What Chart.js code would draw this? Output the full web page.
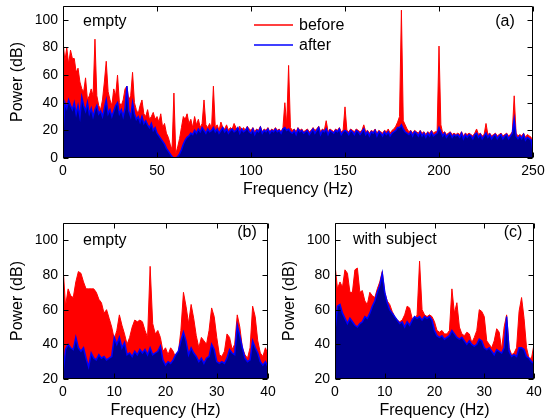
<!DOCTYPE html>
<html><head><meta charset="utf-8">
<script src="https://cdn.jsdelivr.net/npm/chart.js@4.4.1/dist/chart.umd.min.js"></script>
<style>
html,body{margin:0;padding:0;background:#fff;}
#wrap{position:relative;width:548px;height:419px;overflow:hidden;background:#fff;}
canvas{position:absolute;}
</style></head><body>
<div id="wrap">
<canvas id="ca" width="548" height="200" style="left:0;top:0"></canvas>
<canvas id="cb" width="280" height="219" style="left:0;top:200px"></canvas>
<canvas id="cc" width="274" height="219" style="left:274px;top:200px"></canvas>
</div>
<script>
// ---- Panel (a): 0-250 Hz, one value per Hz ----
const aStepHz = 1;
const aBefore = [
85,70,80,68,78,72,72,62,65,55,
50,48,58,42,45,50,45,86,45,38,
35,42,55,70,48,42,38,50,45,60,
40,38,42,50,52,42,45,62,40,35,
32,38,42,32,30,35,28,30,33,28,
30,26,32,22,25,18,15,10,6,47,
3,8,14,22,30,28,32,25,28,22,
30,24,28,22,25,42,24,22,25,21,
52,22,24,20,26,22,21,24,20,22,
21,25,22,20,23,20,22,20,23,21,
20,22,19,21,20,23,19,21,20,22,
19,21,20,22,20,21,19,22,40,24,
67,22,20,21,19,22,20,21,19,20,
21,19,20,22,20,21,23,19,21,20,
27,19,21,20,19,21,20,22,19,20,
37,20,19,21,20,19,21,20,19,20,
24,19,20,18,20,19,21,18,20,19,
18,20,19,21,18,20,21,23,26,30,
107,27,24,21,19,20,18,20,19,18,
20,18,19,17,19,18,20,18,19,19,
81,24,18,19,17,18,19,17,18,17,
18,17,19,16,18,17,18,17,16,18,
21,17,18,16,17,25,17,18,16,17,
18,16,17,18,16,17,18,16,17,19,
45,18,16,17,16,18,15,17,16,15,
8];
const aAfter = [
18,40,36,42,38,35,40,32,38,30,
44,38,34,40,32,36,30,35,38,32,
34,30,36,42,32,35,30,34,38,40,
32,35,30,36,52,34,30,40,32,28,
30,26,30,25,27,24,22,25,20,22,
18,16,14,12,10,7,5,3,1,0,
0,1,3,6,10,13,15,16,18,17,
20,18,21,19,22,20,18,21,19,20,
22,19,21,18,20,22,19,21,18,20,
21,19,20,22,18,21,19,20,22,19,
18,21,17,20,19,22,18,20,19,21,
18,20,19,21,19,20,18,21,22,20,
21,19,18,20,17,21,19,20,18,19,
20,17,19,21,18,20,22,17,20,19,
21,17,20,19,18,20,19,21,17,19,
20,19,17,20,19,17,20,19,17,19,
21,17,19,16,19,18,20,16,19,18,
16,19,17,19,16,18,19,20,22,22,
24,21,19,18,17,19,16,19,18,16,
19,16,18,15,18,16,19,16,17,18,
22,19,16,18,15,17,18,15,17,16,
17,15,18,14,17,15,17,16,14,17,
18,15,17,14,16,18,15,17,14,16,
17,14,16,17,14,16,17,14,16,18,
28,16,14,16,14,17,13,15,14,13,
5];
const aXTicks = [0,50,100,150,200,250];
const aYTicks = [0,20,40,60,80,100];

// ---- Panels (b) and (c): 0-40 Hz, one value per 0.5 Hz ----
const bcStepHz = 0.5;
const bBefore = [
85,62,72,68,67,76,82,81,76,72,
72,72,72,70,66,64,58,60,55,50,
43,48,57,51,46,40,44,50,54,53,
54,53,48,44,85,52,46,48,44,36,
38,34,38,36,32,35,48,70,62,52,
63,55,45,38,44,42,40,48,61,56,
44,34,33,36,46,44,37,40,57,50,
38,34,32,38,62,56,42,35,33,38,
34];
const bAfter = [
23,37,40,38,37,44,38,36,38,32,
27,35,32,31,34,32,33,31,32,33,
44,40,44,38,41,34,35,33,36,34,
37,35,37,34,38,34,35,36,39,31,
28,30,29,31,34,36,42,47,42,34,
38,35,33,30,32,29,32,33,40,37,
30,29,30,29,32,37,35,34,51,45,
38,32,30,31,42,38,35,30,28,30,
27];
const cBefore = [
86,72,76,73,83,81,70,70,83,84,
70,71,65,63,70,68,67,72,76,82,
70,65,63,59,56,54,53,54,57,62,
61,55,54,57,88,60,57,56,57,56,
53,48,47,48,46,46,48,72,58,64,
50,46,45,47,46,41,44,48,60,59,
56,42,40,38,42,49,47,37,50,57,
38,34,35,38,59,67,55,38,32,32,
40];
const cAfter = [
48,62,63,58,55,52,55,53,51,50,
52,53,56,55,58,62,65,70,74,81,
70,64,60,58,56,54,52,53,50,53,
51,54,56,55,56,54,56,55,56,54,
48,45,44,45,43,44,45,48,46,44,
43,44,42,40,42,40,39,40,43,42,
38,37,38,36,34,37,36,35,38,56,
36,33,34,33,38,38,37,33,32,30,
29];
const bcXTicks = [0,10,20,30,40];
const bcYTicks = [20,40,60,80,100];

const FONT = '"Liberation Sans", Arial, Helvetica, sans-serif';
function pts(vals, step){ return vals.map((v,i)=>({x: Math.round(i*step*100)/100, y: v})); }

function makePanel(canvasId, cfg){
  const deco = {
    id: 'deco_' + canvasId,
    afterDraw(chart){
      const {ctx, chartArea:a, scales:{x, y}} = chart;
      ctx.save();
      ctx.strokeStyle = '#000'; ctx.lineWidth = 1;
      const L = Math.round(a.left)+0.5, R = Math.round(a.right)-0.5;
      const T = Math.round(a.top)+0.5, B = Math.round(a.bottom)-0.5;
      ctx.beginPath();
      ctx.rect(L, T, R-L, B-T);
      cfg.xTicks.forEach(v=>{ const p = Math.round(x.getPixelForValue(v))+0.5;
        ctx.moveTo(p,B); ctx.lineTo(p,B-5); ctx.moveTo(p,T); ctx.lineTo(p,T+5); });
      cfg.yTicks.forEach(v=>{ const p = Math.round(y.getPixelForValue(v))+0.5;
        ctx.moveTo(L,p); ctx.lineTo(L+5,p); ctx.moveTo(R,p); ctx.lineTo(R-5,p); });
      ctx.stroke();
      ctx.fillStyle = '#000';
      ctx.font = '16px ' + FONT;
      ctx.textBaseline = 'middle';
      ctx.textAlign = 'center';
      ctx.fillText('Frequency (Hz)', (a.left+a.right)/2, a.bottom + 32);
      ctx.save();
      ctx.translate(a.left - 45, (a.top+a.bottom)/2);
      ctx.rotate(-Math.PI/2);
      ctx.fillText('Power (dB)', 0, 0);
      ctx.restore();
      cfg.notes.forEach(n=>{ ctx.textAlign = n.align; ctx.fillText(n.text, n.x, n.y); });
      if (cfg.legend){
        chart.data.datasets.forEach((d, i)=>{
          const ly = cfg.legend.y + i*cfg.legend.dy;
          ctx.strokeStyle = d.borderColor; ctx.lineWidth = 1.5;
          ctx.beginPath(); ctx.moveTo(cfg.legend.x, ly); ctx.lineTo(cfg.legend.x+39, ly); ctx.stroke();
          ctx.textAlign = 'left';
          ctx.fillText(d.label, cfg.legend.x+45, ly+1);
        });
      }
      ctx.restore();
    }
  };
  return new Chart(document.getElementById(canvasId), {
    type: 'line',
    data: { datasets: [
      { label:'before', data: pts(cfg.before, cfg.step), borderColor:'#ff0000', backgroundColor:'#ff0000',
        borderWidth:1, fill:'start', pointRadius:0, tension:0, order:1 },
      { label:'after', data: pts(cfg.after, cfg.step), borderColor:'#0000ff', backgroundColor:'#00008c',
        borderWidth:1.5, fill:'start', pointRadius:0, tension:0, order:0 }
    ]},
    options: {
      responsive:false, animation:false, devicePixelRatio:1, events:[],
      layout: { padding: { left:0, top:cfg.padTop, right:cfg.padRight, bottom:0 } },
      plugins: { legend:{display:false}, tooltip:{enabled:false} },
      scales: {
        x: { type:'linear', min:cfg.xmin, max:cfg.xmax,
             grid:{display:false, drawTicks:false}, border:{display:false},
             afterBuildTicks: s=>{ s.ticks = cfg.xTicks.map(v=>({value:v})); },
             afterFit: s=>{ s.height = cfg.xHeight; s.paddingLeft = 0; s.paddingRight = 0; },
             ticks:{ font:{family:FONT, size:14}, color:'#000', padding:5, maxRotation:0, autoSkip:false } },
        y: { type:'linear', min:cfg.ymin, max:cfg.ymax,
             grid:{display:false, drawTicks:false}, border:{display:false},
             afterBuildTicks: s=>{ s.ticks = cfg.yTicks.map(v=>({value:v})); },
             afterFit: s=>{ s.width = cfg.yWidth; s.paddingTop = 0; s.paddingBottom = 0; },
             ticks:{ font:{family:FONT, size:14}, color:'#000', padding:5, autoSkip:false } }
      }
    },
    plugins: [deco]
  });
}

makePanel('ca', { before:aBefore, after:aAfter, step:aStepHz, xmin:0, xmax:250, ymin:0, ymax:110,
  xTicks:aXTicks, yTicks:aYTicks, padTop:6, padRight:15, yWidth:63, xHeight:42,
  notes:[{text:'empty', x:83, y:22, align:'left'}, {text:'(a)', x:505, y:22, align:'center'}],
  legend:{x:254, y:25, dy:20} });
makePanel('cb', { before:bBefore, after:bAfter, step:bcStepHz, xmin:0, xmax:40, ymin:20, ymax:110,
  xTicks:bcXTicks, yTicks:bcYTicks, padTop:23, padRight:12, yWidth:63, xHeight:40,
  notes:[{text:'empty', x:83, y:41, align:'left'}, {text:'(b)', x:247, y:33, align:'center'}] });
makePanel('cc', { before:cBefore, after:cAfter, step:bcStepHz, xmin:0, xmax:40, ymin:20, ymax:110,
  xTicks:bcXTicks, yTicks:bcYTicks, padTop:23, padRight:14, yWidth:61, xHeight:40,
  notes:[{text:'with subject', x:79, y:40, align:'left'}, {text:'(c)', x:239, y:33, align:'center'}] });
</script>
</body></html>
